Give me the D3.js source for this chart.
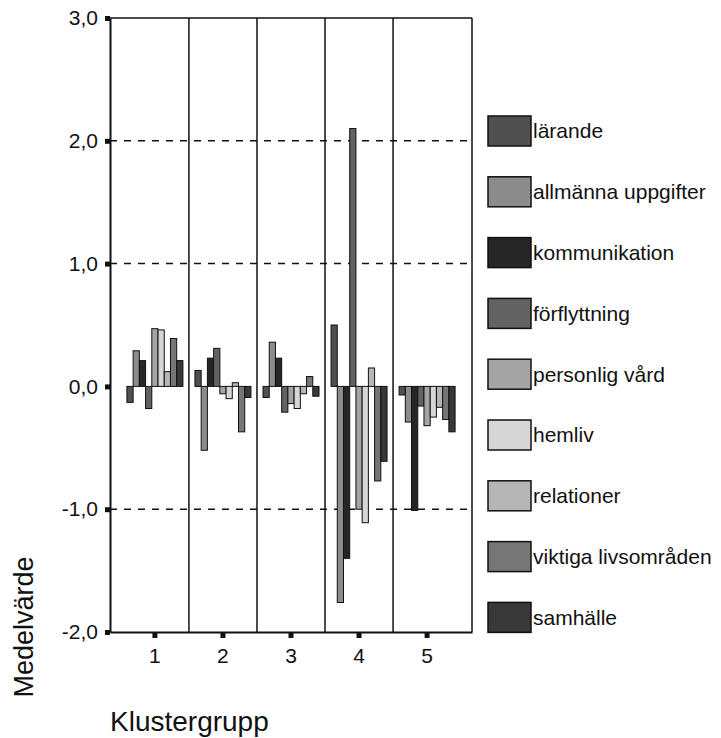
<!DOCTYPE html>
<html>
<head>
<meta charset="utf-8">
<script src="https://cdn.jsdelivr.net/npm/d3@7"></script>
<style>
  body { margin: 0; background: #fff; }
  text { font-family: "Liberation Sans", Arial, sans-serif; fill: #111; }
</style>
</head>
<body>
<div id="chart"></div>
<script>
// clusters on the x axis
var clusters = ["1", "2", "3", "4", "5"];

// one series per domain, values per cluster (1..5)
var seriesNames = ["lärande", "allmänna uppgifter", "kommunikation", "förflyttning",
  "personlig vård", "hemliv", "relationer", "viktiga livsområden", "samhälle"];

var larande       = [-0.13,  0.13, -0.09,  0.50, -0.07];
var allmanna      = [ 0.29, -0.52,  0.36, -1.76, -0.29];
var kommunikation = [ 0.21,  0.23,  0.23, -1.40, -1.01];
var forflyttning  = [-0.18,  0.31, -0.21,  2.10, -0.16];
var personligVard = [ 0.47, -0.06, -0.14, -1.00, -0.32];
var hemliv        = [ 0.46, -0.10, -0.18, -1.11, -0.25];
var relationer    = [ 0.12,  0.03, -0.06,  0.15, -0.17];
var viktiga       = [ 0.39, -0.37,  0.08, -0.77, -0.27];
var samhalle      = [ 0.21, -0.09, -0.08, -0.61, -0.37];

var yTicks = [-2, -1, 0, 1, 2, 3];
var gridValues = [2, 1, -1];

var seriesValues = [larande, allmanna, kommunikation, forflyttning,
  personligVard, hemliv, relationer, viktiga, samhalle];

var fills = ["#505050", "#8c8c8c", "#262626", "#626262", "#a4a4a4",
  "#d6d6d6", "#b6b6b6", "#767676", "#383838"];

var svgWidth = 721;
var svgHeight = 738;

var svg = d3.select("#chart")
  .append("svg")
  .attr("width", svgWidth)
  .attr("height", svgHeight);

var plotLeft = 110, plotRight = 472, plotTop = 18, plotBottom = 632;

// scales
var xScale = d3.scaleBand()
  .domain(clusters)
  .range([plotLeft, plotRight])
  .paddingInner(0)
  .paddingOuter(0.16);

var xInner = d3.scaleBand()
  .domain(d3.range(seriesNames.length))
  .range([-28, 28]);

var yScale = d3.scaleLinear()
  .domain([-2, 3])
  .range([plotBottom, plotTop]);

// frame: top and right edge
svg.append("line")
  .attr("x1", plotLeft).attr("x2", plotRight)
  .attr("y1", plotTop).attr("y2", plotTop)
  .attr("stroke", "#111").attr("stroke-width", 1.5);
svg.append("line")
  .attr("x1", plotRight).attr("x2", plotRight)
  .attr("y1", plotTop).attr("y2", plotBottom)
  .attr("stroke", "#111").attr("stroke-width", 1.5);

// dividers between clusters
svg.append("g")
  .selectAll("line")
  .data(clusters.slice(1))
  .enter()
  .append("line")
  .attr("x1", d => xScale(d))
  .attr("x2", d => xScale(d))
  .attr("y1", plotTop)
  .attr("y2", plotBottom)
  .attr("stroke", "#111")
  .attr("stroke-width", 1.5);

// dashed grid lines
svg.append("g")
  .selectAll("line")
  .data(gridValues)
  .enter()
  .append("line")
  .attr("x1", plotLeft)
  .attr("x2", plotRight)
  .attr("y1", d => yScale(d))
  .attr("y2", d => yScale(d))
  .attr("stroke", "#111")
  .attr("stroke-width", 1.5)
  .attr("stroke-dasharray", "7,7");

// bars
var barData = [];
clusters.forEach(function(c, ci) {
  seriesValues.forEach(function(vals, si) {
    barData.push({ cluster: c, series: si, value: vals[ci] });
  });
});

svg.append("g")
  .attr("class", "bars")
  .selectAll("rect")
  .data(barData)
  .enter()
  .append("rect")
  .attr("x", d => xScale(d.cluster) + xScale.bandwidth() / 2 + xInner(d.series))
  .attr("width", xInner.bandwidth())
  .attr("y", d => yScale(Math.max(0, d.value)))
  .attr("height", d => Math.abs(yScale(d.value) - yScale(0)))
  .attr("fill", d => fills[d.series])
  .attr("stroke", "#111")
  .attr("stroke-width", 1);

// axes
var leftAxis = d3.axisLeft(yScale)
  .tickValues(yTicks)
  .tickSizeInner(5)
  .tickSizeOuter(0)
  .tickPadding(7)
  .tickFormat(d => d3.format(".1f")(d).replace(".", ",").replace("−", "-"));

var yAxisG = svg.append("g")
  .attr("transform", `translate(${plotLeft},0)`)
  .call(leftAxis);

var bottomAxis = d3.axisBottom(xScale)
  .tickSizeInner(6)
  .tickSizeOuter(0)
  .tickPadding(10);

var xAxisG = svg.append("g")
  .attr("transform", `translate(0,${plotBottom})`)
  .call(bottomAxis);

[yAxisG, xAxisG].forEach(function(g) {
  g.select(".domain").attr("stroke", "#111").attr("stroke-width", 2);
  g.selectAll(".tick line").attr("stroke", "#111").attr("stroke-width", 5);
  g.selectAll(".tick text")
    .attr("font-size", "21px")
    .attr("font-family", "Liberation Sans, Arial, sans-serif")
    .attr("fill", "#111");
});

// legend
var legend = svg.append("g")
  .attr("class", "legend")
  .selectAll("g")
  .data(seriesNames)
  .enter()
  .append("g")
  .attr("transform", (d, i) => `translate(488, ${116 + i * 60.8})`);

legend.append("rect")
  .attr("width", 43)
  .attr("height", 30)
  .attr("fill", (d, i) => fills[i])
  .attr("stroke", "#111")
  .attr("stroke-width", 1.5);

legend.append("text")
  .attr("x", 45)
  .attr("y", 15)
  .attr("dy", "0.35em")
  .attr("font-size", "21px")
  .text(d => d);

// axis titles
svg.append("text")
  .attr("transform", "translate(33, 627) rotate(-90)")
  .attr("text-anchor", "middle")
  .attr("font-size", "27px")
  .text("Medelvärde");

svg.append("text")
  .attr("x", 110)
  .attr("y", 731)
  .attr("font-size", "28px")
  .text("Klustergrupp");
</script>
</body>
</html>
